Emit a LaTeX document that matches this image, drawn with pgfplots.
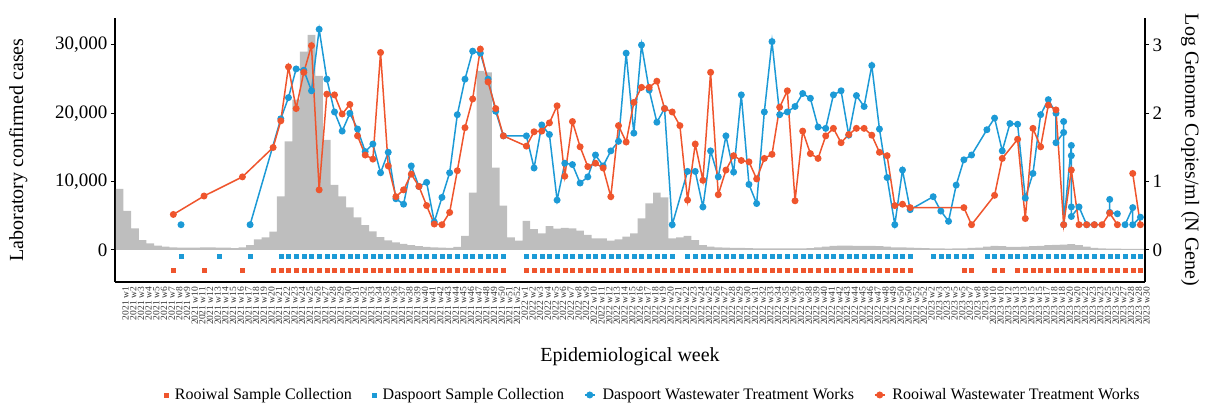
\documentclass[border=0pt]{standalone}
\usepackage{pgfplots}
\pgfplotsset{compat=1.18}
\usepackage{fontspec}
\setmainfont{Liberation Serif}
\definecolor{rred}{RGB}{239,85,45}
\definecolor{dblue}{RGB}{28,154,214}
\definecolor{bargray}{RGB}{190,190,190}
\pgfplotsset{
  common/.style={
    at={(0,0)}, anchor=south west,
    width=1030pt, height=264pt, scale only axis,
    xmin=-0.6, xmax=133.6,
    clip=false,
    scaled y ticks=false,
    tick align=outside,
    major tick length=4pt,
    every tick/.style={black, line width=1pt},
    axis line style={line width=1.3pt, black},
    ticklabel style={font=\fontsize{19}{22}\selectfont},
    label style={font=\fontsize{20}{24}\selectfont},
  },
  shortleg/.style={legend image code/.code={
    \draw[mark repeat=2,mark phase=2,##1] plot coordinates {(0pt,0pt) (5pt,0pt) (10pt,0pt)};}},
}
\begin{document}
\begin{tikzpicture}
\path[use as bounding box] (-115pt,-121pt) rectangle (1090pt,282pt);
\begin{axis}[common,
  ymin=-4683, ymax=33950,
  axis x line*=bottom, axis y line*=left,
  ytick={0,10000,20000,30000},
  yticklabels={0,{10,000},{20,000},{30,000}},
  xtick={0,1,...,133},
  xtick style={draw=none},
  xticklabel style={rotate=90, anchor=east, font=\fontsize{9.5}{10}\selectfont, text=black!80, inner sep=1pt, xshift=0pt, yshift=-6pt},
  xticklabel={\pgfmathtruncatemacro{\w}{\tick}\ifnum\w<52 2021 w\the\numexpr\w+1\relax\else\ifnum\w<104 2022 w\the\numexpr\w-51\relax\else 2023 w\the\numexpr\w-103\relax\fi\fi},
  xlabel={Epidemiological week},
  xlabel style={at={(axis description cs:0.5,-0.284)}, anchor=center},
  ylabel={Laboratory confirmed cases},
  ylabel style={at={(axis description cs:-0.094,0.5)}, anchor=center},
]
\addplot[ybar, bar width=1, fill=bargray, draw=none] table {
0 8930
1 5710
2 3170
3 1460
4 980
5 630
6 490
7 390
8 340
9 340
10 340
11 390
12 390
13 340
14 340
15 290
16 390
17 730
18 1560
19 1860
20 2700
21 7860
22 15900
23 22000
24 29030
25 31470
26 25480
27 16100
28 9520
29 7830
30 6220
31 4760
32 3640
33 2710
34 1900
35 1400
36 1100
37 900
38 700
39 550
40 450
41 380
42 330
43 320
44 450
45 2050
46 8400
47 26200
48 26000
49 12050
50 6500
51 1860
52 1370
53 4250
54 3040
55 2440
56 3510
57 3120
58 3220
59 3170
60 2830
61 2200
62 1710
63 1710
64 1370
65 1560
66 1950
67 2440
68 4640
69 6840
70 8400
71 7710
72 1710
73 1860
74 2050
75 1460
76 730
77 490
78 400
79 350
80 300
81 300
82 280
83 250
84 250
85 230
86 230
87 250
88 250
89 250
90 280
91 380
92 500
93 600
94 650
95 650
96 620
97 600
98 600
99 560
100 500
101 400
102 380
103 330
104 300
105 280
106 250
107 230
108 200
109 220
110 250
111 300
112 350
113 500
114 600
115 550
116 450
117 450
118 500
119 550
120 600
121 700
122 750
123 800
124 850
125 700
126 500
127 300
128 250
129 200
130 200
131 180
132 170
133 150
};
\end{axis}
\begin{axis}[common,
  ymin=-0.4683, ymax=3.395,
  axis x line=none, axis y line*=right,
  ytick={0,1,2,3}, yticklabels={0,1,2,3},
  ylabel={Log Genome Copies/ml (N Gene)},
  ylabel style={at={(axis description cs:1.0437,0.5)}, anchor=center, rotate=180},
  unbounded coords=jump,
  legend columns=4,
  legend style={at={(axis description cs:0.522,-0.428)}, anchor=center, draw=none, fill=none,
    font=\fontsize{16}{19}\selectfont,
    /tikz/every odd column/.append style={column sep=5pt},
    /tikz/every even column/.append style={column sep=18pt}},
  shortleg,
]
\addplot[only marks, mark=square*, mark size=2pt, color=rred] coordinates {
(7,-0.3)(11,-0.3)(16,-0.3)
(20,-0.3)(21,-0.3)(22,-0.3)(23,-0.3)(24,-0.3)(25,-0.3)(26,-0.3)(27,-0.3)(28,-0.3)(29,-0.3)
(30,-0.3)(31,-0.3)(32,-0.3)(33,-0.3)(34,-0.3)(35,-0.3)(36,-0.3)(37,-0.3)(38,-0.3)(39,-0.3)
(40,-0.3)(41,-0.3)(42,-0.3)(43,-0.3)(44,-0.3)(45,-0.3)(46,-0.3)(47,-0.3)(48,-0.3)(49,-0.3)
(50,-0.3)(53,-0.3)(54,-0.3)(55,-0.3)(56,-0.3)(57,-0.3)(58,-0.3)(59,-0.3)
(60,-0.3)(61,-0.3)(62,-0.3)(63,-0.3)(64,-0.3)(65,-0.3)(66,-0.3)(67,-0.3)(68,-0.3)(69,-0.3)
(70,-0.3)(71,-0.3)(72,-0.3)(73,-0.3)(74,-0.3)(75,-0.3)(76,-0.3)(77,-0.3)(78,-0.3)(79,-0.3)
(80,-0.3)(81,-0.3)(82,-0.3)(83,-0.3)(84,-0.3)(85,-0.3)(86,-0.3)(87,-0.3)(88,-0.3)(89,-0.3)
(90,-0.3)(91,-0.3)(92,-0.3)(93,-0.3)(94,-0.3)(95,-0.3)(96,-0.3)(97,-0.3)(98,-0.3)(99,-0.3)
(100,-0.3)(101,-0.3)(102,-0.3)(103,-0.3)
(110,-0.3)(111,-0.3)(114,-0.3)(115,-0.3)
(117,-0.3)(118,-0.3)(119,-0.3)(120,-0.3)(121,-0.3)(122,-0.3)(123,-0.3)(124,-0.3)(125,-0.3)
(126,-0.3)(127,-0.3)(128,-0.3)(129,-0.3)(130,-0.3)(131,-0.3)(132,-0.3)(133,-0.3)
};
\addlegendentry{Rooiwal Sample Collection}
\addplot[only marks, mark=square*, mark size=2pt, color=dblue] coordinates {
(8,-0.09)(13,-0.09)(17,-0.09)
(21,-0.09)(22,-0.09)(23,-0.09)(24,-0.09)(25,-0.09)(26,-0.09)(27,-0.09)(28,-0.09)(29,-0.09)
(30,-0.09)(31,-0.09)(32,-0.09)(33,-0.09)(34,-0.09)(35,-0.09)(36,-0.09)(37,-0.09)(38,-0.09)(39,-0.09)
(40,-0.09)(41,-0.09)(42,-0.09)(43,-0.09)(44,-0.09)(45,-0.09)(46,-0.09)(47,-0.09)(48,-0.09)(49,-0.09)
(50,-0.09)(53,-0.09)(54,-0.09)(55,-0.09)(56,-0.09)(57,-0.09)(58,-0.09)(59,-0.09)
(60,-0.09)(61,-0.09)(62,-0.09)(63,-0.09)(64,-0.09)(65,-0.09)(66,-0.09)(67,-0.09)(68,-0.09)(69,-0.09)
(70,-0.09)(71,-0.09)(72,-0.09)(74,-0.09)(75,-0.09)(76,-0.09)(77,-0.09)(78,-0.09)(79,-0.09)
(80,-0.09)(81,-0.09)(82,-0.09)(83,-0.09)(84,-0.09)(85,-0.09)(86,-0.09)(87,-0.09)(88,-0.09)(89,-0.09)
(90,-0.09)(91,-0.09)(92,-0.09)(93,-0.09)(94,-0.09)(95,-0.09)(96,-0.09)(97,-0.09)(98,-0.09)(99,-0.09)
(100,-0.09)(101,-0.09)(102,-0.09)(103,-0.09)
(106,-0.09)(107,-0.09)(108,-0.09)(109,-0.09)(110,-0.09)(111,-0.09)
(113,-0.09)(114,-0.09)(115,-0.09)(116,-0.09)(117,-0.09)(118,-0.09)(119,-0.09)(120,-0.09)(121,-0.09)
(122,-0.09)(123,-0.09)(124,-0.09)(125,-0.09)(126,-0.09)(127,-0.09)(128,-0.09)(129,-0.09)(130,-0.09)
(131,-0.09)(132,-0.09)(133,-0.09)
};
\addlegendentry{Daspoort Sample Collection}
\addplot[color=dblue, line width=1.5pt, mark=*, mark size=2.7pt] table {
8 0.37
nan nan
17 0.37
21 1.92
22 2.23
23 2.65
24 2.63
25 2.33
26 3.23
27 2.50
28 2.02
29 1.74
30 2.00
31 1.77
32 1.44
33 1.55
34 1.13
35 1.43
36 0.75
37 0.67
38 1.23
39 0.93
40 0.99
41 0.41
42 0.77
43 1.13
44 1.98
45 2.50
46 2.91
47 2.88
48 2.50
49 2.03
50 1.67
53 1.67
54 1.20
55 1.83
56 1.69
57 0.73
58 1.27
59 1.25
60 0.98
61 1.07
62 1.39
63 1.23
64 1.45
65 1.59
66 2.88
67 1.71
68 3.00
69 2.34
70 1.87
71 2.07
72 0.37
74 1.15
75 1.15
76 0.63
77 1.45
78 1.07
79 1.67
80 1.14
81 2.27
82 0.96
83 0.68
84 2.02
85 3.05
86 1.98
87 2.02
88 2.10
89 2.29
90 2.22
91 1.80
92 1.78
93 2.27
94 2.33
95 1.68
96 2.26
97 2.10
98 2.70
99 1.77
100 1.06
101 0.37
102 1.17
103 0.59
106 0.78
107 0.57
108 0.42
109 0.95
110 1.32
111 1.39
113 1.76
114 1.93
115 1.45
116 1.85
117 1.84
118 0.76
119 1.12
120 1.98
121 2.20
122 2.00
122 1.57
123 1.72
123 1.88
123 0.37
124 1.53
124 1.38
124 0.63
124 0.49
125 0.63
126 0.37
127 0.37
nan nan
129 0.74
129 0.55
130 0.53
nan nan
131 0.37
132 0.62
132 0.37
133 0.48
};
\addlegendentry{Daspoort Wastewater Treatment Works}
\addplot[color=rred, line width=1.5pt, mark=*, mark size=2.7pt] table {
7 0.52
11 0.79
16 1.07
20 1.50
21 1.89
22 2.68
23 2.07
24 2.60
25 2.99
26 0.88
27 2.28
28 2.27
29 1.99
30 2.13
31 1.67
32 1.39
33 1.33
34 2.89
35 1.23
36 0.78
37 0.88
38 1.11
39 0.93
40 0.65
41 0.38
42 0.37
43 0.55
44 1.16
45 1.79
46 2.21
47 2.94
48 2.46
49 2.07
50 1.67
53 1.52
54 1.73
55 1.74
56 1.86
57 2.11
58 1.08
59 1.88
60 1.51
61 1.22
62 1.27
63 1.20
64 0.78
65 1.82
66 1.58
67 2.16
68 2.38
69 2.38
70 2.47
71 2.07
72 2.02
73 1.82
74 0.73
75 1.55
76 1.02
77 2.60
78 0.81
79 1.17
80 1.38
81 1.31
82 1.29
83 1.04
84 1.34
85 1.40
86 2.09
87 2.33
88 0.72
89 1.74
90 1.41
91 1.34
92 1.67
93 1.78
94 1.57
95 1.69
96 1.78
97 1.78
98 1.68
99 1.43
100 1.38
101 0.65
102 0.67
103 0.62
110 0.62
111 0.37
114 0.80
115 1.34
117 1.62
118 0.46
119 1.78
120 1.51
121 2.12
122 2.05
123 0.37
124 1.17
125 0.37
126 0.37
127 0.37
128 0.37
129 0.54
130 0.37
nan nan
132 1.12
133 0.37
};
\addlegendentry{Rooiwal Wastewater Treatment Works}
\end{axis}
\end{tikzpicture}
\end{document}
